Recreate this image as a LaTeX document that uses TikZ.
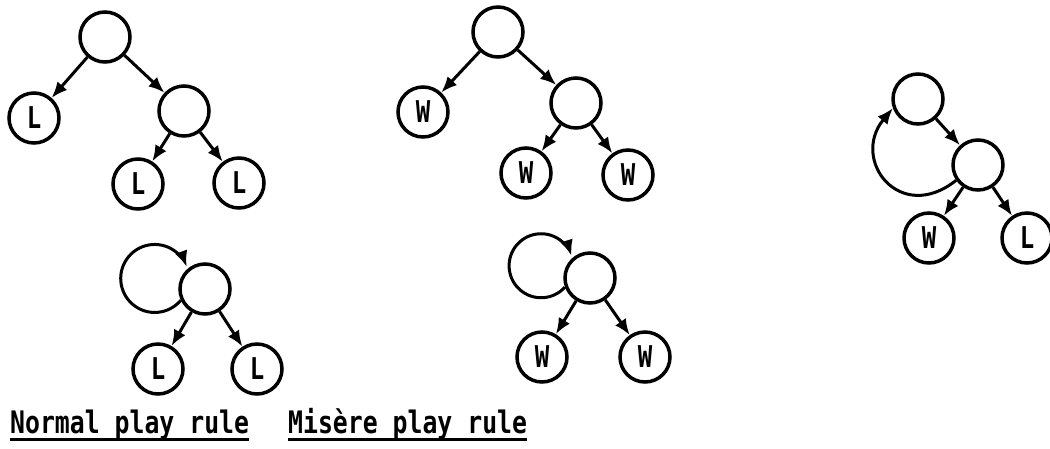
\documentclass[tikz,border=0pt]{standalone}
\usepackage{fontspec}
\usetikzlibrary{arrows.meta}
\newfontfamily\tw[FakeStretch=0.8]{DejaVu Sans Mono}
\tikzset{
  gnode/.style={circle, draw, line width=3.5pt, minimum size=50pt, inner sep=0pt, font=\tw\bfseries\fontsize{30}{30}\selectfont},
  arr/.style={line width=3pt, -{Latex[length=16pt,width=13pt]}},
  lab/.style={font=\tw\bfseries\fontsize{31}{32}\selectfont, inner sep=0pt, anchor=base west},
  uline/.style={line width=3pt}
}
\begin{document}
\begin{tikzpicture}[x=1pt,y=1pt]
\useasboundingbox (0,0) rectangle (1050,-448);
% Normal play tree
\node[gnode] (a0) at (105,-37) {};
\node[gnode] (aL) at (34,-118) {L};
\node[gnode] (a1) at (184,-111) {};
\node[gnode] (aL1) at (138,-184) {L};
\node[gnode] (aL2) at (239,-183) {L};
\draw[arr] (a0) -- (aL);
\draw[arr] (a0) -- (a1);
\draw[arr] (a1) -- (aL1);
\draw[arr] (a1) -- (aL2);
% Normal play loop
\node[gnode] (b1) at (205,-289) {};
\node[gnode] (bL1) at (158,-369) {L};
\node[gnode] (bL2) at (257,-369) {L};
\draw[arr] (b1.205) arc[start angle=-40, end angle=-340, radius=34];
\draw[arr] (b1) -- (bL1);
\draw[arr] (b1) -- (bL2);
% Misere tree
\node[gnode] (c0) at (498,-32) {};
\node[gnode] (cW) at (423,-112) {W};
\node[gnode] (c1) at (576,-103) {};
\node[gnode] (cW1) at (526,-173) {W};
\node[gnode] (cW2) at (628,-175) {W};
\draw[arr] (c0) -- (cW);
\draw[arr] (c0) -- (c1);
\draw[arr] (c1) -- (cW1);
\draw[arr] (c1) -- (cW2);
% Misere loop
\node[gnode] (d1) at (590,-278) {};
\node[gnode] (dW1) at (542,-357) {W};
\node[gnode] (dW2) at (645,-357) {W};
\draw[arr] (d1.200) arc[start angle=-42, end angle=-342, radius=32];
\draw[arr] (d1) -- (dW1);
\draw[arr] (d1) -- (dW2);
% Right graph
\node[gnode] (e0) at (918,-99) {};
\node[gnode] (e1) at (978,-165) {};
\node[gnode] (eW) at (929,-238) {W};
\node[gnode] (eL) at (1027,-238) {L};
\draw[arr] (e0) -- (e1);
\draw[arr] (e1) -- (eW);
\draw[arr] (e1) -- (eL);
\draw[arr] (e1.215) .. controls (900,-225) and (850,-160) .. (e0.200);
% Labels
\node[lab] (n1) at (10,-433) {Normal play rule};
\node[lab] (n2) at (288,-433) {Misère play rule};
\draw[uline] (n1.south west) -- (n1.south east);
\draw[uline] (n2.south west) -- (n2.south east);
\end{tikzpicture}
\end{document}
